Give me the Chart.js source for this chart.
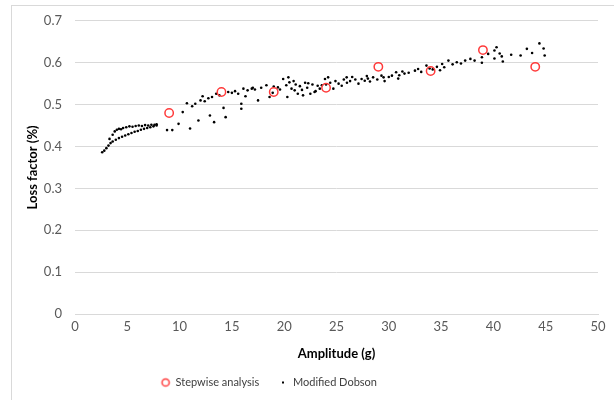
<!DOCTYPE html>
<html>
<head>
<meta charset="utf-8">
<script src="https://cdn.jsdelivr.net/npm/chart.js@4.4.0/dist/chart.umd.min.js"></script>
<style>
  body { margin: 0; background: #fff; }
  #wrap { position: relative; width: 614px; height: 400px; }
  #frame { position: absolute; left: 11px; top: 5px; width: 640px; height: 440px; border: 1px solid #d9d9d9; }
  canvas { position: absolute; left: 0; top: 0; }
</style>
</head>
<body>
<div id="wrap">
  <div id="frame"></div>
  <canvas id="chart" width="614" height="400"></canvas>
</div>
<script>
// Stepwise analysis (red circles)
const stepX = [9, 14, 19, 24, 29, 34, 39, 44];
const stepY = [0.48, 0.53, 0.53, 0.54, 0.59, 0.58, 0.63, 0.59];

// Modified Dobson (small black dots)
const dobsonX = [
  2.6, 2.8, 3.0, 3.2, 3.4, 3.6, 3.9, 4.2, 4.5, 4.8, 5.1, 5.4, 5.7, 6.0, 6.3, 6.6, 6.9, 7.2, 7.5, 7.8,
  3.3, 3.6, 3.8, 4.0, 4.2, 4.4, 4.6, 4.9, 5.2, 5.5, 5.8, 6.1, 6.4, 6.7, 7.0, 7.3, 7.6, 7.8,
  8.8, 9.3, 9.9, 10.3, 10.7, 11.0, 11.2, 11.5, 11.8, 12.0, 12.2, 12.4, 12.75, 12.9, 13.1, 13.3, 13.5, 13.8,
  14.2, 14.4, 14.65, 15.0, 15.3, 15.6, 15.9, 15.9, 16.1, 16.5, 16.9, 17.2, 17.5, 17.8, 18.3, 18.6, 19.0, 19.4, 19.9,
  20.2, 20.4, 20.5, 20.7, 20.3, 20.9, 21.1, 21.3, 21.5, 21.7, 21.8, 22.0, 22.2, 22.5, 22.7, 22.9, 23.2, 23.4, 23.6,
  23.9, 24.2, 24.4, 24.7, 24.9, 25.2, 25.5, 25.7, 25.97, 26.3, 26.5, 26.8, 27.1, 27.4, 27.7, 28.0, 28.2, 28.5, 28.9,
  29.3, 29.5, 29.6, 30.0, 30.3, 30.7, 31.0, 31.5, 31.9, 32.5, 32.8, 33.1, 33.6, 34.2, 34.6, 35.1, 35.3, 35.7, 36.1,
  36.5, 36.9, 37.3, 37.8, 38.2, 38.9, 38.9, 39.5, 40.1, 40.3, 40.1, 40.6, 40.8, 40.9, 41.7, 42.6, 43.2, 43.7, 44.4,
  44.8, 44.9, 19.6, 18.9, 17.0, 16.3, 21.0, 22.3, 23.0, 24.0, 26.0, 27.9, 30.9, 31.3, 33.9, 34.9
];
const dobsonY = [
  0.386, 0.390, 0.396, 0.402, 0.408, 0.412, 0.416, 0.420, 0.423, 0.426, 0.429, 0.432, 0.435, 0.437, 0.440, 0.442, 0.444, 0.446, 0.448, 0.450,
  0.418, 0.428, 0.436, 0.440, 0.442, 0.441, 0.444, 0.446, 0.448, 0.447, 0.449, 0.450, 0.449, 0.451, 0.450, 0.452, 0.452, 0.453,
  0.439, 0.439, 0.454, 0.482, 0.503, 0.443, 0.496, 0.502, 0.462, 0.510, 0.520, 0.508, 0.515, 0.474, 0.518, 0.458, 0.526, 0.522,
  0.492, 0.470, 0.530, 0.528, 0.532, 0.526, 0.502, 0.490, 0.538, 0.534, 0.538, 0.536, 0.510, 0.540, 0.546, 0.518, 0.543, 0.541, 0.561,
  0.546, 0.565, 0.553, 0.538, 0.518, 0.556, 0.548, 0.526, 0.544, 0.535, 0.522, 0.552, 0.540, 0.526, 0.548, 0.530, 0.545, 0.538, 0.546,
  0.561, 0.565, 0.552, 0.538, 0.556, 0.550, 0.545, 0.560, 0.565, 0.556, 0.566, 0.560, 0.550, 0.561, 0.557, 0.562, 0.555, 0.565, 0.560,
  0.569, 0.565, 0.556, 0.566, 0.569, 0.577, 0.570, 0.574, 0.576, 0.581, 0.585, 0.578, 0.593, 0.584, 0.590, 0.597, 0.589, 0.605, 0.596,
  0.601, 0.598, 0.605, 0.609, 0.605, 0.613, 0.600, 0.621, 0.629, 0.637, 0.610, 0.622, 0.615, 0.603, 0.619, 0.617, 0.633, 0.623, 0.646,
  0.634, 0.617, 0.536, 0.528, 0.540, 0.520, 0.534, 0.551, 0.532, 0.548, 0.552, 0.568, 0.562, 0.579, 0.586, 0.582
];

const yTicks = [0, 0.1, 0.2, 0.3, 0.4, 0.5, 0.6, 0.7];

const stepData = [];
for (let i = 0; i < stepX.length; i++) {
  stepData.push({ x: stepX[i], y: stepY[i] });
}
const dobsonData = [];
for (let i = 0; i < dobsonX.length; i++) {
  dobsonData.push({ x: dobsonX[i], y: dobsonY[i] });
}

// small images for the legend markers
function makeMarker(draw) {
  const c = document.createElement("canvas");
  c.width = 12;
  c.height = 12;
  draw(c.getContext("2d"));
  return c;
}
const redMarker = makeMarker((ctx) => {
  ctx.strokeStyle = "#ff3b3b";
  ctx.lineWidth = 1.5;
  ctx.beginPath();
  ctx.arc(6, 6, 3.6, 0, Math.PI * 2);
  ctx.stroke();
});
const dotMarker = makeMarker((ctx) => {
  ctx.fillStyle = "#000";
  ctx.fillRect(5, 5, 2, 2);
});

// move the legend a bit to the left, like in the picture
const legendShift = {
  id: "legendShift",
  afterLayout(chart) {
    chart.legend.left -= 42;
    chart.legend.right -= 42;
  },
};

const tickFont = { family: "Lato", size: 13 };

const chart = new Chart(document.getElementById("chart"), {
  type: "scatter",
  data: {
    datasets: [
      {
        label: "Stepwise analysis",
        data: stepData,
        pointStyle: "circle",
        pointRadius: 4.2,
        borderWidth: 1.5,
        borderColor: "#ff3b3b",
        backgroundColor: "rgba(0,0,0,0)",
        order: 1,
      },
      {
        label: "Modified Dobson",
        data: dobsonData,
        pointStyle: "circle",
        pointRadius: 1.3,
        borderWidth: 0,
        backgroundColor: "#000",
        borderColor: "#000",
        order: 2,
      },
    ],
  },
  plugins: [legendShift],
  options: {
    responsive: false,
    animation: false,
    layout: { padding: { left: 24, right: 16, top: 10, bottom: 2 } },
    plugins: {
      tooltip: { enabled: false },
      legend: {
        position: "bottom",
        labels: {
          usePointStyle: true,
          color: "#404040",
          font: { family: "Lato", size: 11 },
          padding: 8,
          boxWidth: 9,
          boxHeight: 9,
          generateLabels: (chart) => [
            { text: "Stepwise analysis" + "\u00a0\u00a0\u00a0\u00a0", pointStyle: redMarker, datasetIndex: 0, lineWidth: 0, fontColor: "#404040" },
            { text: "Modified Dobson", pointStyle: dotMarker, datasetIndex: 1, lineWidth: 0, fontColor: "#404040" },
          ],
        },
      },
    },
    scales: {
      x: {
        type: "linear",
        min: 0,
        max: 50,
        afterFit: (axis) => {
          axis.height = 55;
        },
        ticks: { stepSize: 5, color: "#595959", font: tickFont, padding: 5, maxRotation: 0 },
        grid: { display: false, drawTicks: false },
        border: { color: "#d9d9d9" },
        title: {
          display: true,
          text: "Amplitude (g)",
          color: "#000",
          font: { family: "Lato", size: 13, weight: "bold" },
          padding: { top: 0, bottom: 7 },
        },
      },
      y: {
        type: "linear",
        min: 0,
        max: 0.7,
        afterBuildTicks: (axis) => {
          axis.ticks = yTicks.map((v) => ({ value: v }));
        },
        afterFit: (axis) => {
          axis.width = 51;
        },
        ticks: {
          color: "#595959",
          font: tickFont,
          padding: 13,
          callback: (v) => String(Math.round(v * 10) / 10),
        },
        grid: { color: "#d9d9d9", drawTicks: false },
        border: { display: false },
        title: {
          display: true,
          text: "Loss factor (%)",
          color: "#000",
          font: { family: "Lato", size: 13, weight: "bold" },
          padding: { top: 1, bottom: 0 },
        },
      },
    },
  },
});
</script>
</body>
</html>
